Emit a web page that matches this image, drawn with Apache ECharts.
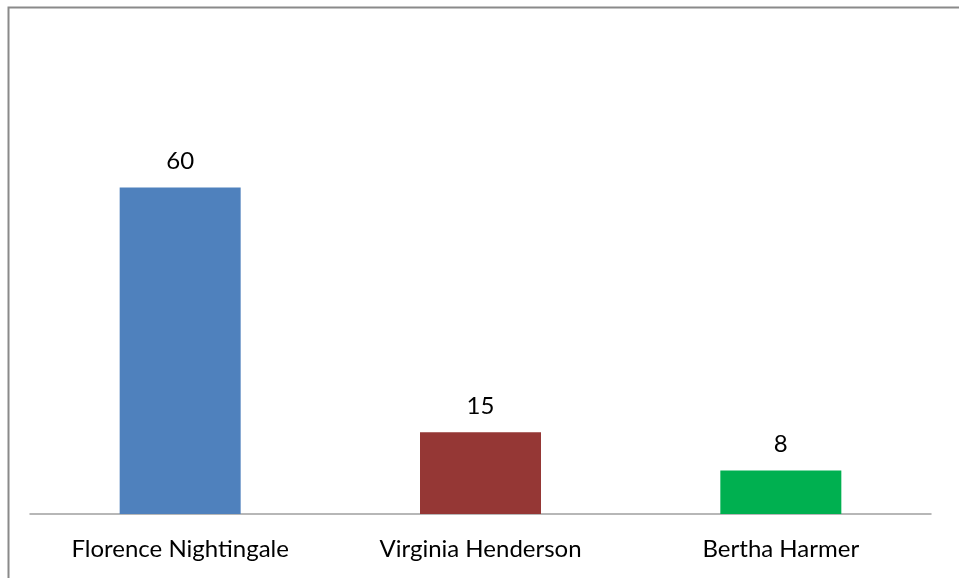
<!DOCTYPE html>
<html>
<head>
<meta charset="utf-8">
<script src="https://cdn.jsdelivr.net/npm/echarts@6/dist/echarts.min.js"></script>
<style>
  html, body { margin: 0; padding: 0; background: #fff; }
  #chart { width: 959px; height: 578px; }
</style>
</head>
<body>
<div id="chart"></div>
<script>
const categories = ['Florence Nightingale', 'Virginia Henderson', 'Bertha Harmer']
const values = [60, 15, 8]
const barColors = ['#4F81BD', '#953735', '#00B050']

const chart = echarts.init(document.getElementById('chart'))
const fontFamily = 'Lato'

chart.setOption({
  animation: false,
  backgroundColor: '#fff',
  graphic: [
    {
      type: 'rect',
      shape: { x: 8.5, y: 7.5, width: 1200, height: 1200 },
      style: { fill: 'none', stroke: '#8a8a8a', lineWidth: 2 },
      silent: true
    }
  ],
  grid: {
    left: 30,
    right: 28,
    top: 133,
    bottom: 64
  },
  xAxis: {
    type: 'category',
    data: categories,
    axisLine: { lineStyle: { color: '#a0a0a0', width: 1.5 } },
    axisTick: { show: false },
    axisLabel: {
      margin: 23,
      color: '#000',
      fontSize: 24,
      fontFamily: fontFamily
    }
  },
  yAxis: {
    type: 'value',
    min: 0,
    max: 70,
    show: false
  },
  series: [
    {
      type: 'bar',
      barWidth: 121,
      data: values.map((v, i) => ({ value: v, itemStyle: { color: barColors[i] } })),
      label: {
        show: true,
        position: 'top',
        distance: 14,
        color: '#000',
        fontSize: 24,
        fontFamily: fontFamily
      }
    }
  ]
})
</script>
</body>
</html>
